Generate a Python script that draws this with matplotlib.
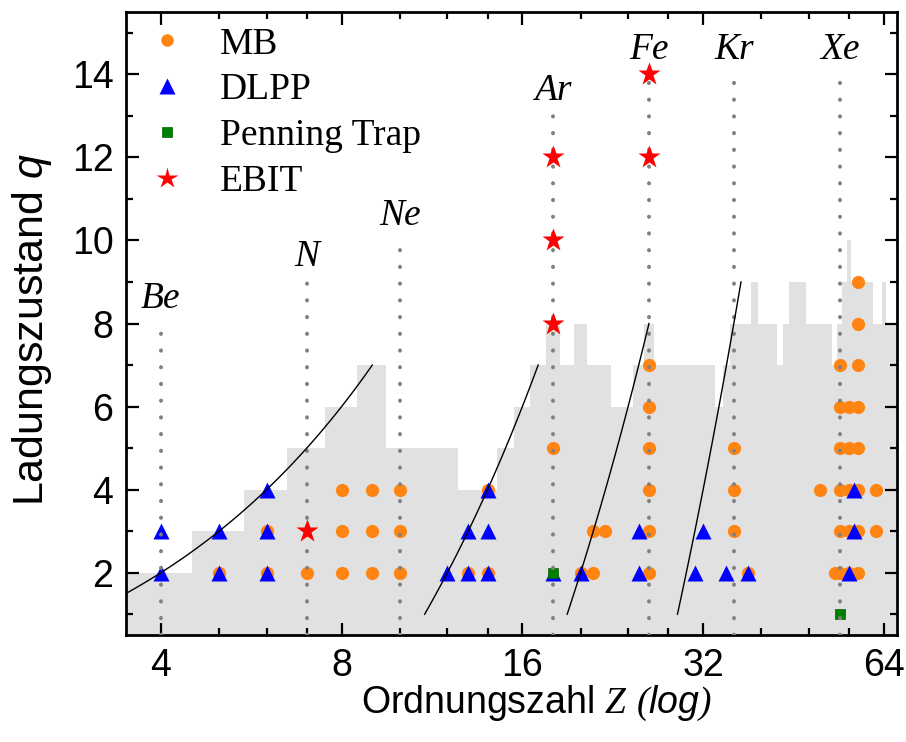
import numpy as np
import matplotlib as mpl
mpl.use('Agg')
import matplotlib.pyplot as plt
from matplotlib.ticker import NullFormatter, FixedLocator
from matplotlib.lines import Line2D

plt.rcParams['font.family'] = ['Liberation Sans', 'DejaVu Sans']
plt.rcParams['mathtext.fontset'] = 'custom'
plt.rcParams['mathtext.it'] = 'Liberation Sans:italic'
plt.rcParams['mathtext.rm'] = 'Liberation Serif:italic'

# gray step profile: q per Z
step_z = list(range(3, 68))
step_q = [2, 2, 3, 4, 5, 6, 7, 5, 5, 5, 4, 4, 5, 6, 7, 8, 7, 8, 7, 7, 6, 6, 7, 8, 7,
          7, 7, 7, 7, 7, 7, 6, 7, 8, 8, 8, 9, 8, 8, 8, 7, 8, 9, 9, 9, 8, 8, 8, 8, 8,
          7, 8, 9, 10, 9, 9, 9, 9, 9, 8, 8, 9, 8, 8, 8]

# measurements
mb_z = [5, 6, 6, 7, 8, 8, 8, 9, 9, 9, 10, 10, 10, 13, 14, 14, 18, 20, 21, 21, 22,
        26, 26, 26, 26, 26, 26, 36, 36, 36, 38, 50,
        53, 54, 56, 58, 54, 56, 58, 62, 54, 56, 58, 62, 54, 56, 58, 54, 56, 58, 54, 58, 58, 58]
mb_q = [2, 2, 3, 2, 2, 3, 4, 2, 3, 4, 2, 3, 4, 2, 2, 4, 5, 2, 2, 3, 3,
        2, 3, 4, 5, 6, 7, 3, 4, 5, 2, 4,
        2, 2, 2, 2, 3, 3, 3, 3, 4, 4, 4, 4, 5, 5, 5, 6, 6, 6, 7, 7, 8, 9]
dlpp_z = [4, 4, 5, 5, 6, 6, 6, 12, 13, 13, 14, 14, 14, 18, 20, 25, 25, 31, 32, 35, 38, 56, 57, 57]
dlpp_q = [2, 3, 2, 3, 2, 3, 4, 2, 2, 3, 2, 3, 4, 2, 2, 2, 3, 2, 3, 2, 2, 2, 3, 4]
penning_z = [18, 54]
penning_q = [2, 1]
ebit_z = [7, 18, 18, 18, 26, 26]
ebit_q = [3, 8, 10, 12, 12, 14]

# elements with dotted guide lines
elem_names = ['Be', 'N', 'Ne', 'Ar', 'Fe', 'Kr', 'Xe']
elem_z = [4, 7, 10, 18, 26, 36, 54]
elem_top = [8, 9, 10, 13, 14, 14, 14]

# model lines q = Z - offset over a Z range
model_offset = [2, 10, 18, 28]
model_zmin = [3.5, 11, 19, 29]
model_zmax = [9, 17, 26, 37]

fig = plt.figure(figsize=(9.06, 7.42), dpi=100)
ax = fig.add_axes([126/906, 1-635/742, (897-126)/906, (635-12)/742])
ax.set_xscale('log', base=2)

ax.fill_between(step_z, 0, step_q, step='mid', color='#e1e1e1', lw=0, zorder=1)

for off, z0, z1 in zip(model_offset, model_zmin, model_zmax):
    zz = np.linspace(z0, z1, 100)
    ax.plot(zz, zz - off, color='k', lw=1.0, zorder=7)

ax.plot(mb_z, mb_q, 'o', color='#ff8412', ms=9.5, mec='none', zorder=2)
ax.plot(dlpp_z, dlpp_q, '^', color='#0000ff', ms=12, mec='none', zorder=3)
ax.plot(penning_z, penning_q, 's', color='#008000', ms=7, mec='#006000', mew=0.5, zorder=4)
ax.vlines(elem_z, 0.5, elem_top, colors='#808080', lw=2.8,
          linestyles=[(0, (0.1, 4.2))], capstyle='round', zorder=5)
ax.plot(ebit_z, ebit_q, '*', color='#ff0000', ms=17, mec='none', zorder=6)

for name, z, top in zip(elem_names, elem_z, elem_top):
    ax.text(z, top + 0.38, name, ha='center', va='baseline', fontsize=27,
            family='Liberation Serif', style='italic')

ax.set_xlim(3.5, 67.3)
ax.set_ylim(0.5, 15.5)
ax.xaxis.set_major_locator(FixedLocator([4, 8, 16, 32, 64]))
ax.set_xticklabels(['4', '8', '16', '32', '64'])
ax.xaxis.set_minor_locator(FixedLocator([5, 6, 7, 10, 12, 14, 20, 24, 28, 40, 48, 56]))
ax.xaxis.set_minor_formatter(NullFormatter())
ax.set_yticks([2, 4, 6, 8, 10, 12, 14])
ax.set_yticks([1, 3, 5, 7, 9, 11, 13, 15], minor=True)

ax.tick_params(which='both', direction='in', top=True, right=True, width=1.6, labelsize=27)
ax.tick_params(which='major', length=9, pad=9)
ax.tick_params(which='minor', length=5)
for s in ax.spines.values():
    s.set_linewidth(2)

ax.set_xlabel('Ordnungszahl $\\mathrm{Z}$ $\\mathit{(log)}$', fontsize=27, labelpad=0, x=0.533)
ax.set_ylabel('Ladungszustand $\\mathit{q}$', fontsize=31, labelpad=13, y=0.49)

handles = [
    Line2D([], [], ls='none', marker='o', color='#ff8412', ms=9, mec='none'),
    Line2D([], [], ls='none', marker='^', color='#0000ff', ms=11, mec='none'),
    Line2D([], [], ls='none', marker='s', color='#008000', ms=7, mec='#006000', mew=0.5),
    Line2D([], [], ls='none', marker='*', color='#ff0000', ms=16, mec='none'),
]
ax.legend(handles, ['MB', 'DLPP', 'Penning Trap', 'EBIT'], loc='upper left',
          frameon=False, prop={'family': 'Liberation Serif', 'size': 27},
          handlelength=1.2, handletextpad=0.8, labelspacing=0.30,
          borderaxespad=0.0, bbox_to_anchor=(0.005, 1.0))

fig.savefig('out.png', dpi=100)
